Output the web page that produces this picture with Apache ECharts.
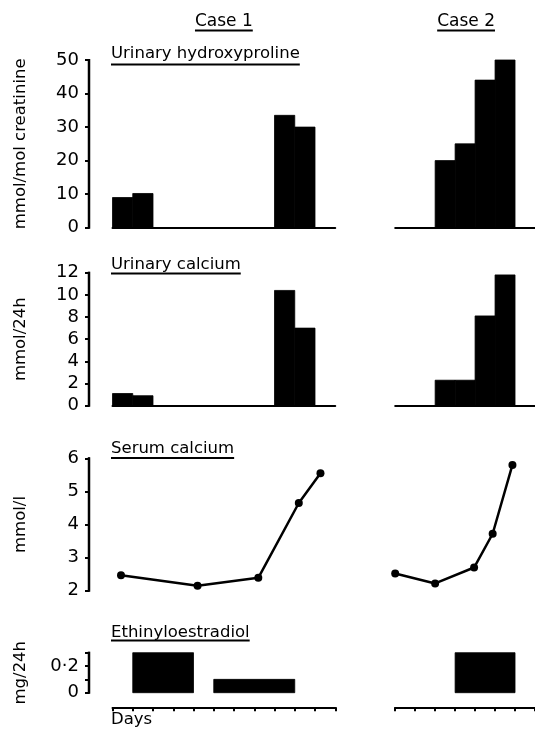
<!DOCTYPE html>
<html><head><meta charset="utf-8">
<script src="https://cdn.jsdelivr.net/npm/echarts@6/dist/echarts.min.js"></script>
<style>html,body{margin:0;padding:0;background:#fff}#c{width:535px;height:733px}</style>
</head><body><div id="c"></div>
<script>
// ---------- data ----------
const caseTitles = ['Case 1', 'Case 2'];
const panelTitles = ['Urinary hydroxyproline', 'Urinary calcium', 'Serum calcium', 'Ethinyloestradiol'];
const yAxisNames = ['mmol/mol creatinine', 'mmol/24h', 'mmol/l', 'mg/24h'];
const xAxisName = 'Days';
const dayCounts = [11, 7];               // number of day intervals on the Days axis
const yMins = [0, 0, 2, 0];
const yMaxs = [50, 12, 6, 0.3];
const yIntervals = [10, 2, 1, 0.1];

// Urinary hydroxyproline: day on which each one-day bar starts, and its value
const case1HypDays = [0, 1, 8, 9];
const case1HypValues = [9, 10.2, 33.5, 30];
const case2HypDays = [2, 3, 4, 5];
const case2HypValues = [20, 25, 44, 50];

// Urinary calcium
const case1UcaDays = [0, 1, 8, 9];
const case1UcaValues = [1.1, 0.9, 10.4, 7.0];
const case2UcaDays = [2, 3, 4, 5];
const case2UcaValues = [2.3, 2.3, 8.1, 11.8];

// Serum calcium
const case1SerumDays = [0.42, 4.2, 7.2, 9.2, 10.27];
const case1SerumValues = [2.47, 2.15, 2.39, 4.65, 5.55];
const case2SerumDays = [0, 2, 3.95, 4.88, 5.87];
const case2SerumValues = [2.52, 2.22, 2.70, 3.72, 5.80];

// Ethinyloestradiol dosing periods
const case1EthStart = [1, 5];
const case1EthEnd = [4, 9];
const case1EthDose = [0.3, 0.1];
const case2EthStart = [3];
const case2EthEnd = [6];
const case2EthDose = [0.3];

// ---------- layout / style ----------
const FONT = 'DejaVu Sans';
const BLACK = '#000';
const caseLeft = [112.5, 395.2];
const yAxisX = 89;
const dayWidth = 20.25;
const panelTop = [60, 272.7, 458.3, 652.7];
const panelHeight = [167.7, 133, 132.4, 40];

const chart = echarts.init(document.getElementById('c'), null, {renderer: 'canvas'});

function barRender(params, api) {
  const a = api.coord([api.value(0), api.value(2)]);
  const b = api.coord([api.value(1), 0]);
  return {type: 'rect', shape: {x: a[0], y: a[1], width: b[0] - a[0], height: b[1] - a[1]},
          style: {fill: BLACK, stroke: BLACK, lineWidth: 0.8}};
}
// vertical spine of a value axis, from its min to its max, placed through the axis scale
function spineRender(params, api) {
  const top = api.coord([0, api.value(1)]);
  const bot = api.coord([0, api.value(0)]);
  return {type: 'rect', shape: {x: top[0] - 1.25, y: top[1] - 1, width: 2.5, height: bot[1] - top[1] + 2},
          style: {fill: BLACK}};
}
function oneDayBars(days, values) { return days.map((d, i) => [d, d + 1, values[i]]); }
function spanBars(starts, ends, values) { return starts.map((s, i) => [s, ends[i], values[i]]); }
function points(days, values) { return days.map((d, i) => [d, values[i]]); }

const barData = [
  [oneDayBars(case1HypDays, case1HypValues), oneDayBars(case2HypDays, case2HypValues)],
  [oneDayBars(case1UcaDays, case1UcaValues), oneDayBars(case2UcaDays, case2UcaValues)],
  null,
  [spanBars(case1EthStart, case1EthEnd, case1EthDose), spanBars(case2EthStart, case2EthEnd, case2EthDose)]
];
const lineData = [points(case1SerumDays, case1SerumValues), points(case2SerumDays, case2SerumValues)];

const grids = [], xAxes = [], yAxes = [], series = [];
for (let p = 0; p < 4; p++) {
  for (let c = 0; c < 2; c++) {
    const idx = p * 2 + c;
    grids.push({left: caseLeft[c], top: panelTop[p], width: dayCounts[c] * dayWidth, height: panelHeight[p]});
    xAxes.push({
      gridIndex: idx, type: 'value', min: 0, max: dayCounts[c], interval: 1,
      position: 'bottom', offset: p === 3 ? 14.6 : 0,
      axisLine: {show: p !== 2, onZero: false, lineStyle: {color: BLACK, width: 2}},
      axisTick: {show: p === 3, length: 4, lineStyle: {color: BLACK, width: 2}},
      axisLabel: {show: false}, splitLine: {show: false}
    });
    yAxes.push({
      gridIndex: idx, type: 'value', min: yMins[p], max: yMaxs[p], interval: yIntervals[p], show: false
    });
    if (p === 2) {
      series.push({type: 'line', xAxisIndex: idx, yAxisIndex: idx, data: lineData[c],
        symbol: 'circle', symbolSize: 8, clip: false,
        lineStyle: {color: BLACK, width: 2.5}, itemStyle: {color: BLACK}});
    } else {
      series.push({type: 'custom', xAxisIndex: idx, yAxisIndex: idx, data: barData[p][c],
        encode: {x: [0, 1], y: 2}, renderItem: barRender, clip: false});
    }
  }
}
// narrow grids carrying the visible value axes of each panel (same scale as the data grids)
for (let p = 0; p < 4; p++) {
  const idx = 8 + p;
  grids.push({left: yAxisX, top: panelTop[p], width: 10, height: panelHeight[p]});
  xAxes.push({gridIndex: idx, type: 'value', min: 0, max: 1, show: true,
    axisLine: {show: false}, axisTick: {show: false}, axisLabel: {show: false}, splitLine: {show: false}});
  yAxes.push({
    gridIndex: idx, type: 'value', min: yMins[p], max: yMaxs[p], interval: yIntervals[p],
    position: 'left',
    axisLine: {show: true, onZero: true, lineStyle: {color: BLACK, width: 2}},
    axisTick: {show: true, length: 4, lineStyle: {color: BLACK, width: 2}},
    axisLabel: {color: BLACK, fontSize: 18, fontFamily: FONT, margin: 10,
      formatter: p === 3 ? (v => Math.abs(v) < 1e-9 ? '0' : (Math.abs(v - 0.2) < 1e-9 ? '0·2' : '')) : null},
    splitLine: {show: false},
    name: yAxisNames[p], nameLocation: 'middle', nameGap: 60,
    nameTextStyle: {color: BLACK, fontSize: 16.5, fontFamily: FONT}
  });
  series.push({type: 'custom', xAxisIndex: idx, yAxisIndex: idx, data: [[yMins[p], yMaxs[p]]],
    renderItem: spineRender, clip: false, z: 10, silent: true});
}

// text + underline helpers
const mctx = document.createElement('canvas').getContext('2d');
function textWidth(t, size) { mctx.font = size + 'px "' + FONT + '"'; return mctx.measureText(t).width; }
const graphics = [];
function underlined(t, x, yMid, size, yLine, align) {
  const w = textWidth(t, size);
  const x0 = align === 'center' ? x - w / 2 : x;
  graphics.push({type: 'text', x: x0, y: yMid, style: {text: t, fontSize: size, fontFamily: FONT,
    fill: BLACK, align: 'left', verticalAlign: 'middle'}});
  graphics.push({type: 'line', shape: {x1: x0, y1: yLine, x2: x0 + w, y2: yLine},
    style: {stroke: BLACK, lineWidth: 2}});
}
underlined(caseTitles[0], caseLeft[0] + dayCounts[0] * dayWidth / 2, 21.5, 17, 30.5, 'center');
underlined(caseTitles[1], caseLeft[1] + dayCounts[1] * dayWidth / 2, 21.5, 17, 30.5, 'center');
const titleMid = [53.5, 265, 448.5, 633];
const titleLine = [64.5, 273.5, 458, 640.5];
for (let p = 0; p < 4; p++) underlined(panelTitles[p], 111, titleMid[p], 16.5, titleLine[p], 'left');
graphics.push({type: 'text', x: 111, y: 720, style: {text: xAxisName, fontSize: 16.5, fontFamily: FONT,
  fill: BLACK, align: 'left', verticalAlign: 'middle'}});

chart.setOption({
  animation: false,
  backgroundColor: '#fff',
  grid: grids, xAxis: xAxes, yAxis: yAxes, series: series,
  graphic: graphics
});
</script></body></html>
